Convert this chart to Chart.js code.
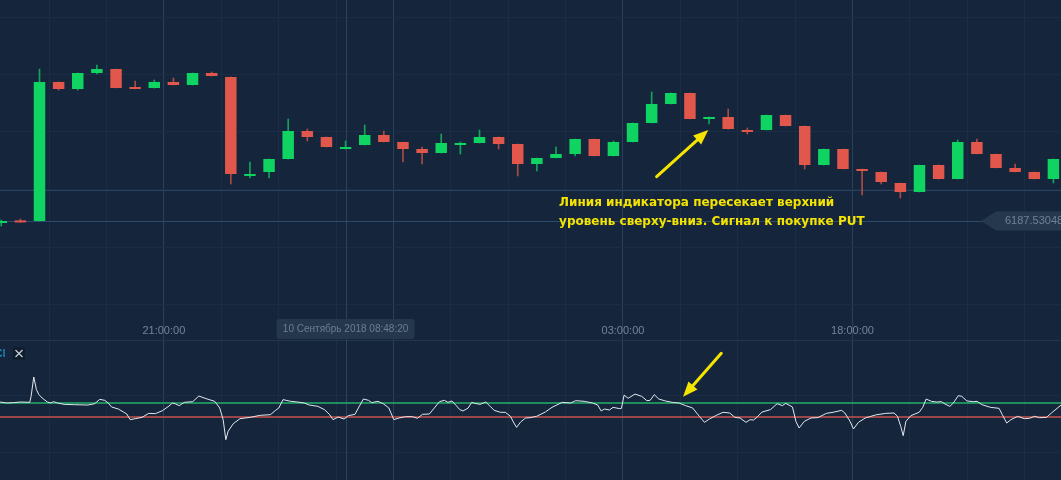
<!DOCTYPE html>
<html>
<head>
<meta charset="utf-8">
<script src="https://cdn.jsdelivr.net/npm/chart.js@4.4.1/dist/chart.umd.min.js"></script>
<style>
html, body { margin: 0; padding: 0; background: #15263c; overflow: hidden; }
#wrap { position: relative; width: 1061px; height: 480px; }
canvas { position: absolute; left: 0; }
#priceChart { top: 0; }
#cciChart { top: 340px; }
</style>
</head>
<body>
<div id="wrap">
  <canvas id="priceChart" width="1061" height="340"></canvas>
  <canvas id="cciChart" width="1061" height="140"></canvas>
</div>
<script>
// candles (index = candle number)
const open  = [6187.520, 6187.530, 6187.530, 6188.225, 6188.190, 6188.270, 6188.290, 6188.198, 6188.195, 6188.225,
               6188.210, 6188.270, 6188.250, 6187.755, 6187.775, 6187.840, 6187.980, 6187.950, 6187.890, 6187.910,
               6187.960, 6187.925, 6187.890, 6187.870, 6187.910, 6187.920, 6187.950, 6187.915, 6187.815, 6187.845,
               6187.865, 6187.940, 6187.855, 6187.925, 6188.020, 6188.115, 6188.170, 6188.040, 6188.050, 6187.985,
               6187.985, 6188.060, 6188.005, 6187.810, 6187.890, 6187.790, 6187.775, 6187.720, 6187.675, 6187.810,
               6187.740, 6187.925, 6187.865, 6187.795, 6187.775, 6187.740];
const high  = [6187.535, 6187.540, 6188.290, 6188.225, 6188.270, 6188.310, 6188.290, 6188.230, 6188.235, 6188.245,
               6188.270, 6188.275, 6188.250, 6187.825, 6187.840, 6188.040, 6187.990, 6187.950, 6187.930, 6188.010,
               6187.980, 6187.925, 6187.900, 6187.965, 6187.925, 6187.985, 6187.950, 6187.915, 6187.845, 6187.900,
               6187.940, 6187.940, 6187.930, 6188.020, 6188.175, 6188.170, 6188.170, 6188.050, 6188.090, 6187.995,
               6188.060, 6188.060, 6188.005, 6187.890, 6187.890, 6187.790, 6187.775, 6187.720, 6187.810, 6187.810,
               6187.935, 6187.940, 6187.865, 6187.815, 6187.775, 6187.840];
const low   = [6187.505, 6187.523, 6187.530, 6188.185, 6188.185, 6188.265, 6188.195, 6188.190, 6188.195, 6188.210,
               6188.210, 6188.255, 6187.715, 6187.745, 6187.745, 6187.840, 6187.930, 6187.900, 6187.890, 6187.910,
               6187.925, 6187.825, 6187.815, 6187.870, 6187.865, 6187.920, 6187.890, 6187.755, 6187.780, 6187.845,
               6187.855, 6187.855, 6187.855, 6187.925, 6188.020, 6188.115, 6188.040, 6188.015, 6187.990, 6187.965,
               6187.985, 6188.005, 6187.790, 6187.810, 6187.790, 6187.660, 6187.715, 6187.645, 6187.675, 6187.740,
               6187.740, 6187.865, 6187.795, 6187.775, 6187.740, 6187.720];
const close = [6187.530, 6187.523, 6188.225, 6188.190, 6188.270, 6188.290, 6188.195, 6188.190, 6188.225, 6188.210,
               6188.270, 6188.255, 6187.765, 6187.765, 6187.840, 6187.980, 6187.950, 6187.900, 6187.900, 6187.960,
               6187.925, 6187.890, 6187.870, 6187.920, 6187.920, 6187.950, 6187.915, 6187.815, 6187.845, 6187.865,
               6187.940, 6187.855, 6187.925, 6188.020, 6188.115, 6188.170, 6188.040, 6188.050, 6187.990, 6187.975,
               6188.060, 6188.005, 6187.810, 6187.890, 6187.790, 6187.780, 6187.725, 6187.675, 6187.810, 6187.740,
               6187.925, 6187.865, 6187.795, 6187.775, 6187.740, 6187.840];

const lastPrice = 6187.530486;
const crossIdx = 18;
const crossPrice = 6187.6875;
const crossLabel = '10 Сентябрь 2018 08:48:20';

// CCI indicator (time in candle units)
const cciX = [-0.06, 0.29, 0.64, 1.00, 1.49, 1.56, 1.70, 1.84, 1.97, 2.14, 2.41, 2.59, 2.73, 2.94, 3.29, 3.82, 4.53, 4.88,
              5.15, 5.41, 5.59, 5.77, 6.12, 6.39, 6.56, 6.74, 7.00, 7.36, 7.71, 8.06, 8.42, 8.77, 8.95, 9.12, 9.30, 9.57,
              10.01, 10.33, 10.71, 11.16, 11.42, 11.60, 11.74, 11.86, 12.13, 12.48, 13.01, 13.54, 14.07, 14.34, 14.51,
              14.73, 15.13, 15.49, 15.84, 16.10, 16.55, 16.90, 17.17, 17.34, 17.61, 17.92, 18.14, 18.49, 18.67, 18.93,
              19.20, 19.37, 19.69, 19.99, 20.26, 20.52, 20.79, 21.14, 21.49, 21.76, 22.02, 22.38, 22.64, 22.91, 23.17,
              23.35, 23.56, 23.79, 23.97, 24.14, 24.41, 24.59, 24.76, 25.03, 25.33, 25.56, 25.77, 26.09, 26.35, 26.62,
              26.80, 26.94, 27.15, 27.41, 27.64, 27.99, 28.44, 28.79, 29.32, 29.76, 30.03, 30.47, 30.91, 31.18, 31.36,
              31.53, 31.80, 31.98, 32.33, 32.42, 32.56, 32.77, 33.13, 33.48, 33.75, 33.92, 34.14, 34.37, 34.72, 35.07,
              35.43, 35.78, 36.14, 36.49, 36.76, 37.02, 37.38, 37.73, 38.08, 38.35, 38.62, 38.93, 39.15, 39.32, 39.50,
              39.77, 40.21, 40.56, 40.83, 41.01, 41.36, 41.54, 41.71, 41.98, 42.33, 42.69, 43.13, 43.48, 43.93, 44.10,
              44.37, 44.55, 44.81, 45.17, 45.70, 46.23, 46.67, 46.85, 47.02, 47.15, 47.29, 47.55, 47.98, 48.17, 48.35,
              48.62, 48.88, 49.15, 49.33, 49.59, 49.77, 50.03, 50.21, 50.48, 50.83, 51.01, 51.27, 51.71, 52.16, 52.33,
              52.56, 52.78, 53.13, 53.48, 53.75, 54.02, 54.28, 54.64, 54.90, 55.40];
const cciY = [114, 100, 105, 114, 110, 195, 471, 290, 219, 171, 114, 100, 119, 100, 81, 76, 71, 90,
              152, 138, 100, 43, 14, -29, -57, -138, -124, -105, -48, -52, -10, 57, 100, 86, 62, 109,
              119, 200, 162, 124, 29, -138, -424, -305, -195, -124, -105, -76, -67, -5, 29,
              148, 124, 114, 100, 71, 52, 5, -67, -138, -100, -129, -81, -62, 29, 157,
              138, 105, 124, 86, 29, -138, -114, -95, -95, -119, -62, -57, 29, 119, 138,
              109, 129, 62, 5, -14, 29, 109, 95, 81, 114, 52, -5, -33, -33, -90,
              -186, -248, -171, -114, -110, -90, -29, 38, 109, 100, 133, 124, 100, 71, -14,
              14, 0, 38, 19, 24, 214, 167, 228, 195, 133, 138, 219, 157, 129, 109,
              100, 62, 29, -90, -176, -129, -76, -33, -43, -105, -114, -176, -138, -143, -105,
              -29, 5, 90, 62, 95, 43, -162, -257, -162, -114, -109, -48, -33, -5, -43,
              -162, -271, -176, -114, -71, -48, -43, -90, -233, -367, -162, -81, -33, 38, 157,
              124, 114, 119, 86, 52, 100, 205, 195, 129, 119, 124, 76, 38, 24, -67,
              -186, -138, -90, -124, -119, -90, -110, -105, -43, 71];
const cciLevels = [100, -100];

// axes
const X_MIN = -0.065, X_MAX = 55.398;
const timeGrid = [2.5, 5.5, 8.5, 11.5, 14.5, 17.5, 20.5, 23.5, 26.5, 29.5, 32.5, 35.5, 38.5, 41.5, 44.5, 47.5, 50.5, 53.5];
const majorGrid = [8.5, 20.5, 32.5, 44.5];
const timeTicks = [8.5, 32.5, 44.5];
const timeLabels = ['21:00:00', '03:00:00', '18:00:00'];
const priceGrid = [6187.1125, 6187.4, 6187.6875, 6187.975, 6188.2625, 6188.55];
const cciGrid = [214, -600];

// annotations
const noteLines = ['Линия индикатора пересекает верхний', 'уровень сверху-вниз. Сигнал к покупке PUT'];
const noteIdx = 29.16, noteY = [6187.605, 6187.51];
const arrowPrice = { from: [34.26, 6187.7515], to: [36.96, 6187.985] };
const arrowCci = { from: [37.64, 810], to: [35.64, 190] };

const UP = '#0fd462', DOWN = '#e2574b';
const UP_WICK = '#13a457', DOWN_WICK = '#ab4a43';
const GRID = '#1a2d45', GRID_MAJOR = '#2a3f59';
const isUp = i => close[i] >= open[i];

function drawArrow(ctx, x1, y1, x2, y2) {
  const a = Math.atan2(y2 - y1, x2 - x1);
  const head = 15, half = 6;
  const bx = x2 - head * Math.cos(a), by = y2 - head * Math.sin(a);
  ctx.strokeStyle = '#f5e400';
  ctx.fillStyle = '#f5e400';
  ctx.lineWidth = 3;
  ctx.lineCap = 'round';
  ctx.beginPath(); ctx.moveTo(x1, y1); ctx.lineTo(bx, by); ctx.stroke();
  ctx.beginPath();
  ctx.moveTo(x2, y2);
  ctx.lineTo(bx + half * Math.sin(a), by - half * Math.cos(a));
  ctx.lineTo(bx - half * Math.sin(a), by + half * Math.cos(a));
  ctx.closePath(); ctx.fill();
}

function xAxis() {
  return {
    type: 'linear', min: X_MIN, max: X_MAX, offset: false,
    border: { display: false },
    ticks: { display: false },
    grid: { offset: false, drawTicks: false, color: c => majorGrid.includes(c.tick && c.tick.value) ? GRID_MAJOR : GRID },
    afterBuildTicks: s => { s.ticks = timeGrid.map(v => ({ value: v })); }
  };
}

const priceOverlay = {
  id: 'priceOverlay',
  beforeDatasetsDraw(chart) {
    const { ctx, scales: { x, y } } = chart;
    ctx.save();
    ctx.lineWidth = 1;
    ctx.strokeStyle = '#2b4260';
    const cy = Math.round(y.getPixelForValue(crossPrice)) + 0.5;
    ctx.beginPath(); ctx.moveTo(0, cy); ctx.lineTo(chart.width, cy); ctx.stroke();
    const cx = Math.round(x.getPixelForValue(crossIdx)) + 0.5;
    ctx.beginPath(); ctx.moveTo(cx, 0); ctx.lineTo(cx, chart.height); ctx.stroke();
    ctx.strokeStyle = '#2b4a6c';
    const py = Math.round(y.getPixelForValue(lastPrice)) + 0.5;
    ctx.beginPath(); ctx.moveTo(0, py); ctx.lineTo(982, py); ctx.stroke();
    ctx.restore();
  },
  afterDraw(chart) {
    const { ctx, scales: { x, y } } = chart;
    ctx.save();
    // time labels
    ctx.font = '11px "Liberation Sans", Arial, sans-serif';
    ctx.textAlign = 'center';
    ctx.textBaseline = 'middle';
    ctx.fillStyle = '#72849b';
    timeTicks.forEach((v, i) => ctx.fillText(timeLabels[i], x.getPixelForValue(v), 331));
    // crosshair time box
    const cx = x.getPixelForValue(crossIdx);
    ctx.fillStyle = '#25374d';
    ctx.beginPath(); ctx.roundRect(cx - 69, 319, 138, 20, 3); ctx.fill();
    ctx.fillStyle = '#6b7d94';
    ctx.font = '10px "Liberation Sans", Arial, sans-serif';
    ctx.fillText(crossLabel, cx, 329.5);
    // last price tag
    const py = y.getPixelForValue(lastPrice);
    ctx.fillStyle = '#26384e';
    ctx.beginPath();
    ctx.moveTo(981, py); ctx.lineTo(996, py - 9.5); ctx.lineTo(chart.width, py - 9.5);
    ctx.lineTo(chart.width, py + 9.5); ctx.lineTo(996, py + 9.5); ctx.closePath(); ctx.fill();
    ctx.fillStyle = '#6f8094';
    ctx.textAlign = 'left';
    ctx.font = '11px "Liberation Sans", Arial, sans-serif';
    ctx.fillText(lastPrice.toFixed(6), 1005, py);
    // note
    ctx.font = 'bold 12px "DejaVu Sans", sans-serif';
    ctx.fillStyle = '#f5e400';
    ctx.textBaseline = 'alphabetic';
    noteLines.forEach((t, i) => ctx.fillText(t, x.getPixelForValue(noteIdx), y.getPixelForValue(noteY[i])));
    drawArrow(ctx, x.getPixelForValue(arrowPrice.from[0]), y.getPixelForValue(arrowPrice.from[1]),
                   x.getPixelForValue(arrowPrice.to[0]), y.getPixelForValue(arrowPrice.to[1]));
    ctx.restore();
  }
};

const cciOverlay = {
  id: 'cciOverlay',
  beforeDatasetsDraw(chart) {
    const { ctx, scales: { x } } = chart;
    ctx.save();
    ctx.lineWidth = 1;
    ctx.strokeStyle = '#22354d';
    ctx.beginPath(); ctx.moveTo(0, 0.5); ctx.lineTo(chart.width, 0.5); ctx.stroke();
    ctx.strokeStyle = '#2b4260';
    const cx = Math.round(x.getPixelForValue(crossIdx)) + 0.5;
    ctx.beginPath(); ctx.moveTo(cx, 0); ctx.lineTo(cx, chart.height); ctx.stroke();
    ctx.restore();
  },
  afterDraw(chart) {
    const { ctx, scales: { x, y } } = chart;
    ctx.save();
    ctx.font = '11px "Liberation Sans", Arial, sans-serif';
    ctx.fillStyle = '#1ea6e8';
    ctx.textAlign = 'right';
    ctx.textBaseline = 'middle';
    ctx.fillText('CCI', 5.5, 13.5);
    ctx.fillStyle = '#0f1c2c';
    ctx.fillRect(13, 7.5, 12, 12);
    ctx.strokeStyle = '#c9d1db';
    ctx.lineWidth = 1.2;
    ctx.beginPath();
    ctx.moveTo(15.5, 10); ctx.lineTo(22.5, 17); ctx.moveTo(22.5, 10); ctx.lineTo(15.5, 17);
    ctx.stroke();
    drawArrow(ctx, x.getPixelForValue(arrowCci.from[0]), y.getPixelForValue(arrowCci.from[1]),
                   x.getPixelForValue(arrowCci.to[0]), y.getPixelForValue(arrowCci.to[1]));
    ctx.restore();
  }
};

const common = {
  responsive: false,
  animation: false,
  events: [],
  layout: { padding: 0 },
  plugins: { legend: { display: false }, tooltip: { enabled: false } }
};

new Chart(document.getElementById('priceChart'), {
  type: 'bar',
  data: {
    datasets: [
      {
        label: 'body',
        data: open.map((o, i) => ({ x: i, y: [o, close[i]] })),
        backgroundColor: c => isUp(c.dataIndex) ? UP : DOWN,
        barPercentage: 0.6, categoryPercentage: 1,
        minBarLength: 2, grouped: false, order: 1
      },
      {
        label: 'wick',
        data: low.map((l, i) => ({ x: i, y: [l, high[i]] })),
        backgroundColor: c => isUp(c.dataIndex) ? UP_WICK : DOWN_WICK,
        barThickness: 1, grouped: false, order: 2
      }
    ]
  },
  options: Object.assign({}, common, {
    scales: {
      x: xAxis(),
      y: {
        min: 6186.935, max: 6188.635,
        border: { display: false },
        ticks: { display: false },
        grid: { drawTicks: false, color: GRID },
        afterBuildTicks: s => { s.ticks = priceGrid.map(v => ({ value: v })); }
      }
    }
  }),
  plugins: [priceOverlay]
});

new Chart(document.getElementById('cciChart'), {
  type: 'line',
  data: {
    datasets: [
      {
        label: 'CCI',
        data: cciX.map((v, i) => ({ x: v, y: cciY[i] })),
        borderColor: '#e3e8ee', borderWidth: 1, pointRadius: 0, tension: 0, order: 0
      },
      {
        label: 'upper',
        data: [{ x: X_MIN, y: cciLevels[0] }, { x: X_MAX, y: cciLevels[0] }],
        borderColor: '#23b26b', borderWidth: 1.4, pointRadius: 0, order: 1
      },
      {
        label: 'lower',
        data: [{ x: X_MIN, y: cciLevels[1] }, { x: X_MAX, y: cciLevels[1] }],
        borderColor: '#c7524d', borderWidth: 1.4, pointRadius: 0, order: 1
      }
    ]
  },
  options: Object.assign({}, common, {
    scales: {
      x: xAxis(),
      y: {
        min: -1000, max: 1000,
        border: { display: false },
        ticks: { display: false },
        grid: { drawTicks: false, color: GRID },
        afterBuildTicks: s => { s.ticks = cciGrid.map(v => ({ value: v })); }
      }
    }
  }),
  plugins: [cciOverlay]
});
</script>
</body>
</html>
